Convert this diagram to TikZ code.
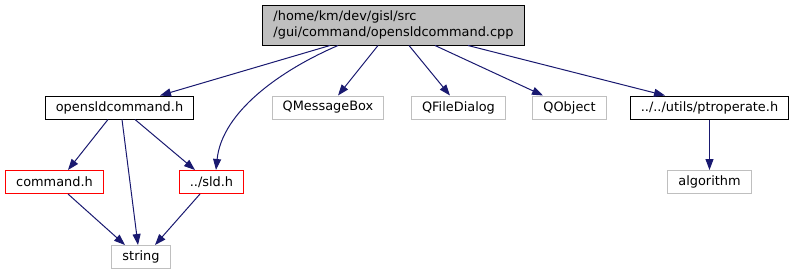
\documentclass[tikz,border=0pt]{standalone}
\usepackage{fontspec}
\setmainfont{DejaVu Sans}
\usetikzlibrary{arrows.meta}
\definecolor{edgeblue}{RGB}{25,25,112}
\definecolor{boxgray}{RGB}{191,191,191}
\tikzset{
  file/.style={draw=black,line width=1pt,fill=white,inner xsep=10.5pt,inner ysep=0pt,
    minimum height=23pt,font=\fontsize{12.9}{16}\selectfont},
  sysfile/.style={file,draw=boxgray},
  missfile/.style={file,draw=red},
  dep/.style={edgeblue,line width=1pt,-{Triangle[length=11pt,width=8pt]}},
}

\begin{document}
\begin{tikzpicture}[x=1pt,y=-1pt]
  \useasboundingbox (0,0) rectangle (795,276);

  % the source file and its includes
  \node[file,fill=boxgray,align=left,minimum height=40pt] (cpp) at (393.5,25)
    {/home/km/dev/gisl/src\\/gui/command/opensldcommand.cpp};
  \node[file] (ocmd) at (119.5,107.5) {opensldcommand.h};
  \node[sysfile] (msgbox) at (328,107.5) {QMessageBox};
  \node[sysfile] (filedlg) at (458.5,107.5) {QFileDialog};
  \node[sysfile] (qobj) at (569.5,107.5) {QObject};
  \node[file] (ptrop) at (709.5,107.5) {../../utils/ptroperate.h};
  \node[missfile] (cmd) at (54.5,182) {command.h};
  \node[missfile] (sld) at (211.5,182) {../sld.h};
  \node[sysfile] (algo) at (709.5,182) {algorithm};
  \node[sysfile] (str) at (141,257) {string};

  % include edges
  \draw[dep] ([xshift=-63.5pt]cpp.south) -- ([xshift=40.5pt]ocmd.north);
  \draw[dep] ([xshift=-55.5pt]cpp.south) .. controls +(-58,25) and +(6,-58) .. ([xshift=4.5pt]sld.north);
  \draw[dep] ([xshift=-15.5pt]cpp.south) -- ([xshift=10pt]msgbox.north);
  \draw[dep] ([xshift=15.5pt]cpp.south) -- ([xshift=-8.5pt]filedlg.north);
  \draw[dep] ([xshift=41.5pt]cpp.south) -- ([xshift=-26.5pt]qobj.north);
  \draw[dep] ([xshift=74.5pt]cpp.south) -- ([xshift=-44.5pt]ptrop.north);
  \draw[dep] ([xshift=-11.5pt]ocmd.south) -- ([xshift=13.5pt]cmd.north);
  \draw[dep] ([xshift=2.5pt]ocmd.south) -- ([xshift=-3pt]str.north);
  \draw[dep] ([xshift=15.5pt]ocmd.south) -- ([xshift=-16.5pt]sld.north);
  \draw[dep] ([xshift=13.5pt]cmd.south) -- ([xshift=-16pt]str.north);
  \draw[dep] ([xshift=-11.5pt]sld.south) -- ([xshift=14pt]str.north);
  \draw[dep] (ptrop) -- (algo);
\end{tikzpicture}
\end{document}
